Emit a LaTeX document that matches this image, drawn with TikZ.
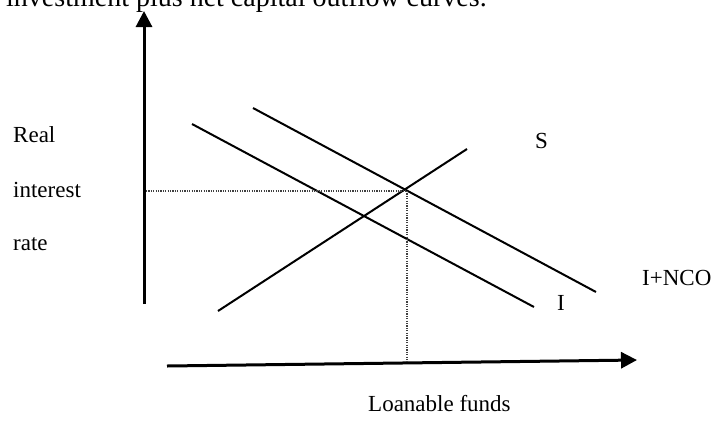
\documentclass[tikz,border=0pt]{standalone}
\usepackage{fontspec}
\setmainfont{Liberation Serif}
\usetikzlibrary{arrows.meta}
\begin{document}
\begin{tikzpicture}[x=1pt,y=-1pt,
  axis/.style={line width=3pt,-{Triangle[length=16pt,width=16pt]}},
  curve/.style={line width=2pt},
  guide/.style={line width=1.2pt,black!75,dash pattern=on 1.2pt off 1.2pt},
  lbl/.style={inner sep=0pt,anchor=base west,font=\fontsize{23}{27}\selectfont},
  toptext/.style={inner sep=0pt,anchor=base west,font=\fontsize{28}{32}\selectfont}]
\clip (0,0) rectangle (714,421);
% axes
\coordinate (yb) at (144,304);
\coordinate (yt) at (144,11);
\coordinate (xl) at (167,366);
\coordinate (xr) at (637,360);
\draw[axis] (yb) -- (yt);
\draw[axis] (xl) -- (xr);
% curves
\coordinate (n1) at (253,108);
\coordinate (n2) at (596,292);
\coordinate (i1) at (192,124);
\coordinate (i2) at (534,307);
\coordinate (s1) at (218,311);
\coordinate (s2) at (467,149);
\draw[curve] (n1) -- (n2);
\draw[curve] (i1) -- (i2);
\draw[curve] (s1) -- (s2);
% guides
\coordinate (eq) at (407,191);
\coordinate (eqy) at (146,191);
\coordinate (eqx) at (407,362);
\draw[guide] (eqy) -- (eq);
\draw[guide] (eq) -- (eqx);
% labels
\node[toptext] (top) at (6,6) {investment plus net capital outflow curves.};
\node[lbl] (real) at (13,142) {Real};
\node[lbl] (interest) at (13,197) {interest};
\node[lbl] (rate) at (13,250) {rate};
\node[lbl] (S) at (535,148) {S};
\node[lbl] (INCO) at (642,285) {I+NCO};
\node[lbl] (I) at (557,310) {I};
\node[lbl] (lf) at (368,411) {Loanable funds};
\end{tikzpicture}
\end{document}
